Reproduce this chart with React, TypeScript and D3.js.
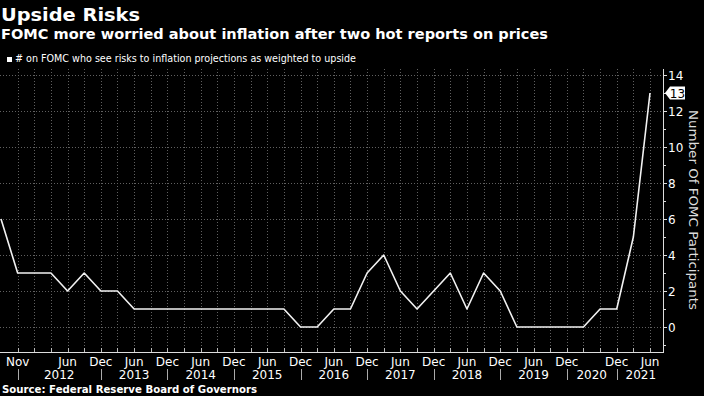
import React, { useEffect, useRef } from "react";
import * as d3 from "d3";

// SEP meetings (evenly spaced on the chart, no March 2020 SEP)
const meetings = [
  "Jun 2011", "Nov 2011",
  "Jan 2012", "Apr 2012", "Jun 2012", "Sep 2012", "Dec 2012",
  "Mar 2013", "Jun 2013", "Sep 2013", "Dec 2013",
  "Mar 2014", "Jun 2014", "Sep 2014", "Dec 2014",
  "Mar 2015", "Jun 2015", "Sep 2015", "Dec 2015",
  "Mar 2016", "Jun 2016", "Sep 2016", "Dec 2016",
  "Mar 2017", "Jun 2017", "Sep 2017", "Dec 2017",
  "Mar 2018", "Jun 2018", "Sep 2018", "Dec 2018",
  "Mar 2019", "Jun 2019", "Sep 2019", "Dec 2019",
  "Jun 2020", "Sep 2020", "Dec 2020",
  "Mar 2021", "Jun 2021",
];

// same order as meetings
const upsideCount = [
  6, 3,
  3, 3, 2, 3, 2,
  2, 1, 1, 1,
  1, 1, 1, 1,
  1, 1, 1, 0,
  0, 1, 1, 3,
  4, 2, 1, 2,
  3, 1, 3, 2,
  0, 0, 0, 0,
  0, 1, 1,
  5, 13,
];

const monthTicks = [
  "Nov 2011", "Jun 2012", "Dec 2012", "Jun 2013", "Dec 2013", "Jun 2014",
  "Dec 2014", "Jun 2015", "Dec 2015", "Jun 2016", "Dec 2016", "Jun 2017",
  "Dec 2017", "Jun 2018", "Dec 2018", "Jun 2019", "Dec 2019", "Dec 2020",
  "Jun 2021",
];

const yearBreaks = [
  "Nov 2011", "Dec 2012", "Dec 2013", "Dec 2014", "Dec 2015",
  "Dec 2016", "Dec 2017", "Dec 2018", "Dec 2019", "Dec 2020",
];
const yearLabels = ["2012", "2013", "2014", "2015", "2016", "2017", "2018", "2019", "2020", "2021"];

const yTicks = [0, 2, 4, 6, 8, 10, 12, 14];
const yMinor = [-1, 1, 3, 5, 7, 9, 11, 13];

const W = 704;
const H = 396;

const App = () => {
  const ref = useRef<SVGSVGElement>(null);

  useEffect(() => {
    const svg = d3.select(ref.current);
    svg.selectAll("*").remove();

    const font = "DejaVu Sans, Verdana, sans-serif";
    const plotTop = 69;
    const plotBottom = 352;
    const plotRight = 663;

    const x = d3.scalePoint<string>().domain(meetings).range([1, 650]);
    const y = d3.scaleLinear().domain([0, 14]).range([327, 75]);

    svg.append("rect").attr("width", W).attr("height", H).attr("fill", "#000");

    // titles
    svg.append("text").attr("x", 1).attr("y", 21)
      .attr("font-family", font).attr("font-weight", "bold").attr("font-size", 18)
      .attr("fill", "#fff").attr("textLength", 139).attr("lengthAdjust", "spacingAndGlyphs")
      .text("Upside Risks");
    svg.append("text").attr("x", 1).attr("y", 39)
      .attr("font-family", font).attr("font-weight", "bold").attr("font-size", 14)
      .attr("fill", "#fff").attr("textLength", 547).attr("lengthAdjust", "spacingAndGlyphs")
      .text("FOMC more worried about inflation after two hot reports on prices");

    // legend
    svg.append("rect").attr("x", 7).attr("y", 57).attr("width", 5).attr("height", 5).attr("fill", "#fff");
    svg.append("text").attr("x", 15).attr("y", 62)
      .attr("font-family", font).attr("font-size", 10)
      .attr("fill", "#fff").attr("textLength", 341).attr("lengthAdjust", "spacingAndGlyphs")
      .text("# on FOMC who see risks to inflation projections as weighted to upside");

    // grid
    const grid = svg.append("g").attr("stroke", "#606060").attr("stroke-width", 1)
      .attr("stroke-dasharray", "1,2");
    grid.selectAll("line.h").data(yTicks).join("line")
      .attr("x1", 0).attr("x2", plotRight)
      .attr("y1", (d) => Math.round(y(d)) + 0.5).attr("y2", (d) => Math.round(y(d)) + 0.5);
    grid.selectAll("line.v").data(meetings.slice(1)).join("line")
      .attr("x1", (d) => Math.round(x(d)!) + 0.5).attr("x2", (d) => Math.round(x(d)!) + 0.5)
      .attr("y1", plotTop).attr("y2", plotBottom);

    // x axis
    svg.append("line").attr("x1", 0).attr("x2", plotRight + 0.5)
      .attr("y1", plotBottom + 0.5).attr("y2", plotBottom + 0.5)
      .attr("stroke", "#ddd");
    svg.append("g").selectAll("line").data(meetings.slice(1)).join("line")
      .attr("x1", (d) => Math.round(x(d)!) + 0.5).attr("x2", (d) => Math.round(x(d)!) + 0.5)
      .attr("y1", plotBottom - 4).attr("y2", plotBottom)
      .attr("stroke", "#bbb");

    svg.append("g").selectAll("text").data(monthTicks).join("text")
      .attr("x", (d) => x(d)!).attr("y", 366)
      .attr("text-anchor", "middle").attr("font-family", font).attr("font-size", 12)
      .attr("fill", "#fff").text((d) => d.slice(0, 3));

    const breaks = yearBreaks.map((d) => x(d)!);
    svg.append("g").selectAll("line").data(breaks).join("line")
      .attr("x1", (d) => Math.round(d) + 0.5).attr("x2", (d) => Math.round(d) + 0.5)
      .attr("y1", 369).attr("y2", 380).attr("stroke", "#aaa");
    svg.append("g").selectAll("text").data(yearLabels).join("text")
      .attr("x", (d, i) => ((breaks[i] + (i + 1 < breaks.length ? breaks[i + 1] : plotRight + 2)) / 2))
      .attr("y", 379)
      .attr("text-anchor", "middle").attr("font-family", font).attr("font-size", 12)
      .attr("fill", "#fff").text((d) => d);

    // right axis
    svg.append("line").attr("x1", plotRight + 0.5).attr("x2", plotRight + 0.5)
      .attr("y1", plotTop).attr("y2", plotBottom + 1).attr("stroke", "#ddd");
    svg.append("g").selectAll("line").data(yTicks).join("line")
      .attr("x1", plotRight).attr("x2", plotRight + 4)
      .attr("y1", (d) => Math.round(y(d)) + 0.5).attr("y2", (d) => Math.round(y(d)) + 0.5)
      .attr("stroke", "#ddd");
    svg.append("g").selectAll("line").data(yMinor).join("line")
      .attr("x1", plotRight).attr("x2", plotRight + 3)
      .attr("y1", (d) => Math.round(y(d)) + 0.5).attr("y2", (d) => Math.round(y(d)) + 0.5)
      .attr("stroke", "#ddd");
    svg.append("g").selectAll("text").data(yTicks).join("text")
      .attr("x", plotRight + 5).attr("y", (d) => y(d) + 4.5)
      .attr("font-family", font).attr("font-size", 12)
      .attr("fill", "#fff").text((d) => d);

    svg.append("text")
      .attr("transform", `translate(689,${210}) rotate(90)`)
      .attr("text-anchor", "middle").attr("font-family", font).attr("font-size", 13)
      .attr("fill", "#ddd").attr("textLength", 200).attr("lengthAdjust", "spacingAndGlyphs")
      .text("Number Of FOMC Participants");

    // line
    const line = d3.line<number>()
      .x((d, i) => x(meetings[i])!)
      .y((d) => y(d));
    svg.append("path").datum(upsideCount).attr("d", line)
      .attr("fill", "none").attr("stroke", "#f2f2f2").attr("stroke-width", 1.6)
      .attr("stroke-linejoin", "round");

    // last value flag
    const last = upsideCount[upsideCount.length - 1];
    const ly = y(last);
    svg.append("path")
      .attr("d", `M${plotRight + 2},${ly} L${plotRight + 7},${ly - 6.5} H${plotRight + 22} V${ly + 6.5} H${plotRight + 7} Z`)
      .attr("fill", "#fff");
    svg.append("text").attr("x", plotRight + 14.5).attr("y", ly + 4.5)
      .attr("text-anchor", "middle")
      .attr("font-family", font).attr("font-size", 12).attr("fill", "#000").text(last);

    // source
    svg.append("text").attr("x", 2).attr("y", 393)
      .attr("font-family", font).attr("font-weight", "bold").attr("font-size", 11)
      .attr("fill", "#fff").attr("textLength", 255).attr("lengthAdjust", "spacingAndGlyphs")
      .text("Source: Federal Reserve Board of Governors");
  }, []);

  return (
    <svg ref={ref} width={W} height={H}
      style={{ position: "absolute", left: 0, top: 0, display: "block" }} />
  );
};

export default App;
